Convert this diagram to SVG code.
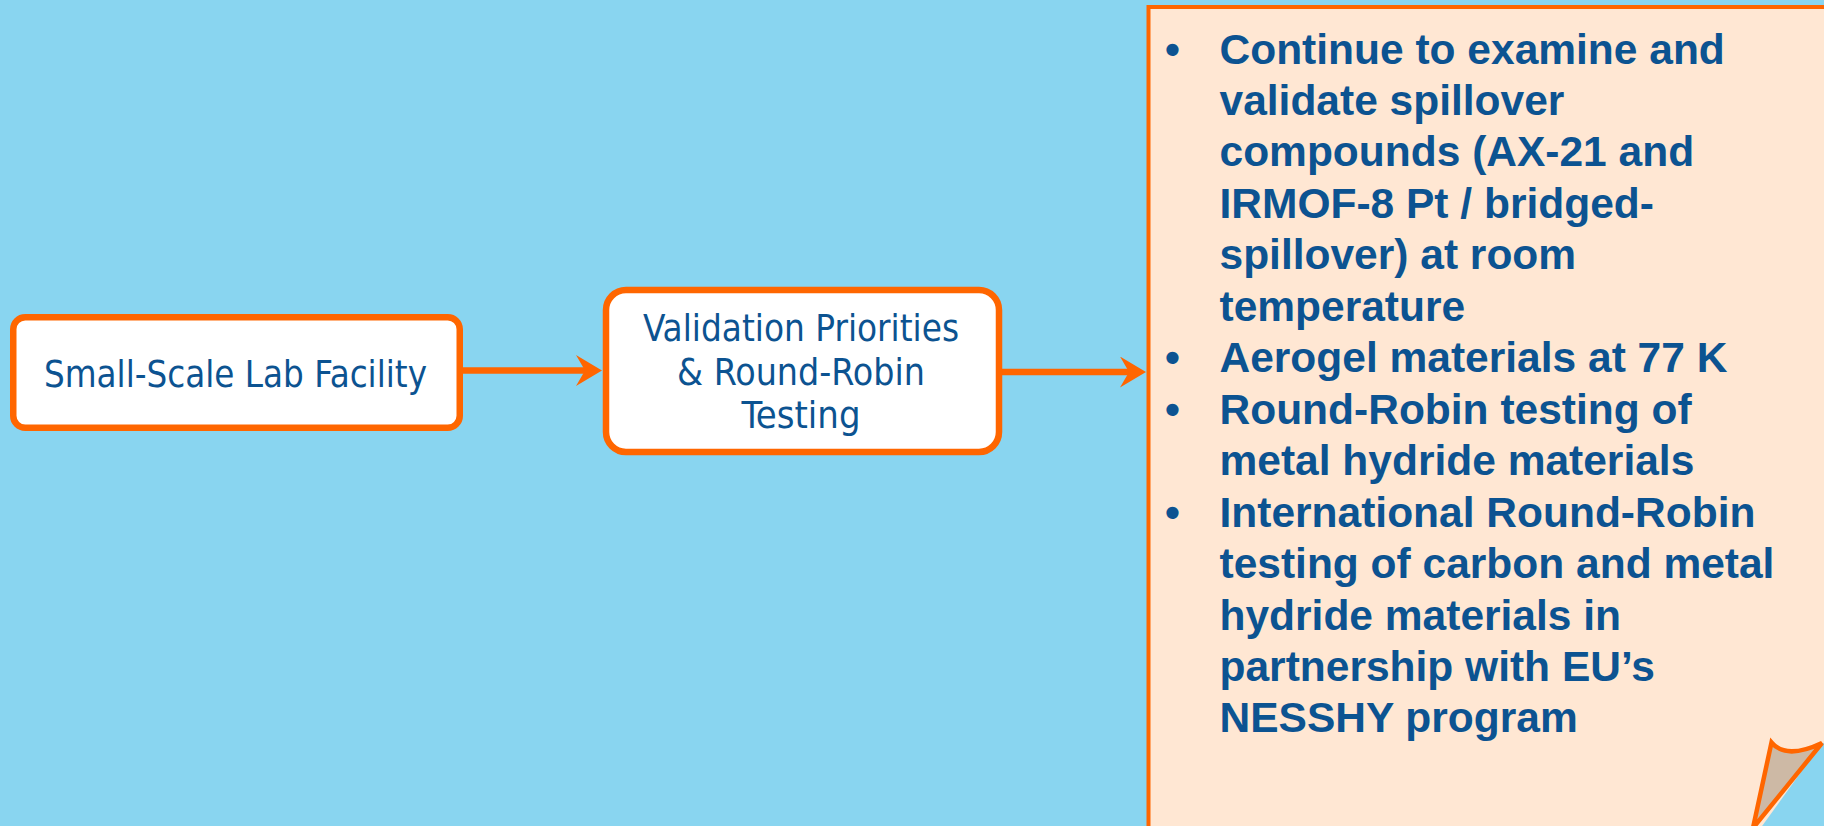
<svg xmlns="http://www.w3.org/2000/svg" width="1824" height="826" viewBox="0 0 1824 826">
  <style>
    .box { fill: #FFFFFF; stroke: #FF6600; stroke-width: 6.5; }
    .label { font-family: "DejaVu Sans Condensed", "DejaVu Sans", sans-serif; font-stretch: condensed; font-size: 38px; fill: #0C5391; text-anchor: middle; }
    .link { stroke: #FF6600; stroke-width: 6.5; fill: none; marker-end: url(#stealth); }
    .note { fill: #FFE7D3; stroke: #FF6600; stroke-width: 4; }
    .curl { fill: #CDB9A5; stroke: #FF6600; stroke-width: 4.5; stroke-linejoin: miter; }
    .bullets { font-family: "Liberation Sans", Arial, sans-serif; font-weight: bold; font-size: 42.5px; fill: #0C5391; }
  </style>
  <defs>
    <marker id="stealth" markerUnits="userSpaceOnUse" markerWidth="27" markerHeight="31" refX="9" refY="15.5" orient="auto">
      <path d="M0,0 L26,15.5 L0,31 L9,15.5 Z" fill="#FF6600"/>
    </marker>
  </defs>

  <!-- background -->
  <rect x="0" y="0" width="1824" height="826" fill="#89D5F0"/>

  <!-- connectors -->
  <g id="connectors">
    <line class="link" x1="463" y1="370.5" x2="585" y2="370.5"/>
    <line class="link" x1="1002" y1="372" x2="1129" y2="372"/>
  </g>

  <!-- source node -->
  <g id="node-lab-facility">
    <rect class="box" x="13.25" y="317.25" width="446.5" height="110.5" rx="12" ry="12"/>
    <text class="label" x="235.5" y="386.5" textLength="383" lengthAdjust="spacingAndGlyphs">Small-Scale Lab Facility</text>
  </g>

  <!-- middle node -->
  <g id="node-validation">
    <rect class="box" x="606" y="290" width="393" height="162" rx="20" ry="20"/>
    <text class="label" x="801" y="341" textLength="316" lengthAdjust="spacingAndGlyphs">Validation Priorities</text>
    <text class="label" x="801" y="385" textLength="248" lengthAdjust="spacingAndGlyphs">&amp; Round-Robin</text>
    <text class="label" x="801" y="428" textLength="119" lengthAdjust="spacingAndGlyphs">Testing</text>
  </g>

  <!-- callout note with curled corner -->
  <g id="node-priorities-note">
    <rect class="note" x="1148.5" y="7" width="700" height="840"/>
    <polygon points="1822,743 1840,743 1840,840 1752,840" fill="#89D5F0"/>
    <path class="curl" d="M1771.5,742.5 Q1786,760 1822,743 L1753,828 Z"/>
    <text class="bullets">
      <tspan x="1178.3" y="63.5" text-anchor="middle">•</tspan>
      <tspan x="1219.5" y="63.5">Continue to examine and</tspan>
      <tspan x="1219.5" y="115">validate spillover</tspan>
      <tspan x="1219.5" y="166.4">compounds (AX-21 and</tspan>
      <tspan x="1219.5" y="217.9">IRMOF-8 Pt / bridged-</tspan>
      <tspan x="1219.5" y="269.3">spillover) at room</tspan>
      <tspan x="1219.5" y="320.8">temperature</tspan>
      <tspan x="1178.3" y="372.2" text-anchor="middle">•</tspan>
      <tspan x="1219.5" y="372.2">Aerogel materials at 77 K</tspan>
      <tspan x="1178.3" y="423.7" text-anchor="middle">•</tspan>
      <tspan x="1219.5" y="423.7">Round-Robin testing of</tspan>
      <tspan x="1219.5" y="475.1">metal hydride materials</tspan>
      <tspan x="1178.3" y="526.6" text-anchor="middle">•</tspan>
      <tspan x="1219.5" y="526.6">International Round-Robin</tspan>
      <tspan x="1219.5" y="578">testing of carbon and metal</tspan>
      <tspan x="1219.5" y="629.5">hydride materials in</tspan>
      <tspan x="1219.5" y="680.9">partnership with EU’s</tspan>
      <tspan x="1219.5" y="732.4">NESSHY program</tspan>
    </text>
  </g>
</svg>
